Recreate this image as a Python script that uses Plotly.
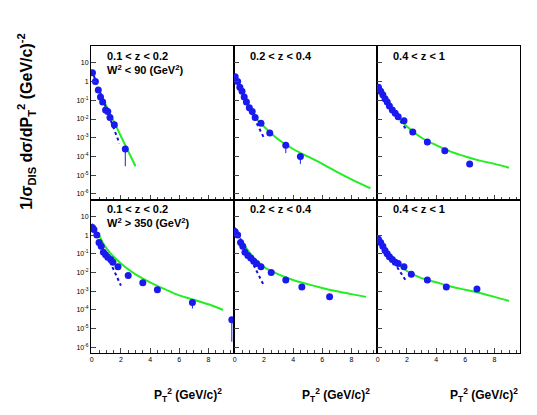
import plotly.graph_objects as go
from plotly.subplots import make_subplots

pts = {
 (1,1): ([0.05,0.25,0.45,0.6,0.75,0.95,1.1,1.25,1.55,2.3],
         [3,1,0.35,0.15,0.08,0.03,0.025,0.012,0.005,2.5e-4]),
 (1,2): ([0.03,0.2,0.35,0.5,0.65,0.8,1.0,1.2,1.4,1.8,2.4,3.5,4.5],
         [1.8,1.0,0.5,0.3,0.15,0.08,0.04,0.025,0.012,0.006,0.0018,4e-4,1e-4]),
 (1,3): ([0.05,0.2,0.35,0.5,0.65,0.8,1.0,1.2,1.4,1.8,2.4,3.4,4.6,6.3],
         [0.5,0.3,0.2,0.12,0.08,0.05,0.03,0.02,0.013,0.008,0.002,6e-4,2e-4,4e-5]),
 (2,1): ([0.05,0.15,0.35,0.5,0.65,0.8,0.95,1.1,1.3,1.45,1.8,2.5,3.5,4.5,6.9,9.6],
         [2.5,2,1,0.4,0.25,0.12,0.09,0.065,0.05,0.035,0.02,0.007,0.0028,0.0012,2.5e-4,3e-5]),
 (2,2): ([0.03,0.2,0.4,0.55,0.7,0.9,1.1,1.3,1.5,1.8,2.5,3.5,4.6,6.5],
         [1.5,1.0,0.4,0.25,0.12,0.08,0.06,0.04,0.03,0.02,0.01,0.004,0.0017,5e-4]),
 (2,3): ([0.05,0.2,0.35,0.5,0.65,0.8,1.0,1.2,1.4,1.8,2.3,3.4,4.7,6.8],
         [0.6,0.4,0.25,0.15,0.1,0.07,0.05,0.035,0.03,0.02,0.008,0.004,0.0017,0.0013]),
}
# lower error bar endpoints (absolute) for selected points
err_low_end = {(1,1): {9: 3e-5}, (1,2): {11: 1.5e-4, 12: 4e-5}, (2,1): {14: 1.2e-4, 15: 2e-6}}
green = {
 (1,1): ([0.4,1.0,2.0,3.0],[0.5,0.05,1.2e-3,3e-5]),
 (1,2): ([1.2,1.5,2,3,4,5,6,7,8,9.3],[0.02,0.01,0.004,8e-4,2.5e-4,1e-4,4e-5,1.5e-5,6e-6,2e-6]),
 (1,3): ([1.2,1.5,2,3,4,5,6,7,8,9],[0.02,0.01,0.004,1e-3,4e-4,1.8e-4,1e-4,6e-5,4e-5,2.5e-5]),
 (2,1): ([0.5,1,2,3,4,5,6,7,8,9],[1,0.2,0.03,0.008,0.003,1.3e-3,6e-4,3.5e-4,2e-4,1e-4]),
 (2,2): ([0.5,1,2,3,4,5,6,7,8,9],[0.5,0.12,0.02,0.008,0.004,0.0024,0.0015,1e-3,7e-4,5e-4]),
 (2,3): ([0.8,1,2,3,4,5,6,7,8,9],[0.08,0.05,0.012,0.005,0.003,0.0018,0.0012,8e-4,5e-4,3e-4]),
}
dotted = {
 (1,1): ([0,0.5,1,1.5,1.9],[4,0.4,0.04,0.004,5e-4]),
 (1,2): ([0,0.5,1,1.5,2],[2.5,0.3,0.04,0.006,0.001]),
 (1,3): ([0,0.5,1,1.5,2],[0.6,0.12,0.03,0.008,0.0025]),
 (2,1): ([0,0.5,1,1.5,2],[4,0.7,0.1,0.015,0.002]),
 (2,2): ([0,0.5,1,1.5,2],[2.5,0.45,0.08,0.012,0.002]),
 (2,3): ([0,0.5,1,1.5,2],[0.8,0.2,0.05,0.012,0.003]),
}
labels = {(1,1):"<b>0.1 < z < 0.2<br>W<sup>2</sup> < 90 (GeV<sup>2</sup>)</b>", (1,2):"<b>0.2 < z < 0.4</b>",
          (1,3):"<b>0.4 < z < 1</b>", (2,1):"<b>0.1 < z < 0.2<br>W<sup>2</sup> > 350 (GeV<sup>2</sup>)</b>",
          (2,2):"<b>0.2 < z < 0.4</b>", (2,3):"<b>0.4 < z < 1</b>"}
ytickvals = [1e-6,1e-5,1e-4,1e-3,1e-2,1e-1,1,10]
yticktext = ["10<sup>-6</sup>","10<sup>-5</sup>","10<sup>-4</sup>","10<sup>-3</sup>","10<sup>-2</sup>","10<sup>-1</sup>","1","10"]
xtickvals = [0,2,4,6,8]

fig = make_subplots(rows=2, cols=3, horizontal_spacing=0, vertical_spacing=0)
for (r,c),(x,y) in pts.items():
    gx, gy = green[(r,c)]
    fig.add_trace(go.Scatter(x=gx,y=gy,mode="lines",line=dict(color="#22ee22",width=2,shape="spline")),row=r,col=c)
    dx, dy = dotted[(r,c)]
    fig.add_trace(go.Scatter(x=dx,y=dy,mode="lines",line=dict(color="#1111dd",width=2,dash="dot")),row=r,col=c)
    ends = err_low_end.get((r,c),{})
    aminus = [y[i]-ends[i] if i in ends else 0 for i in range(len(y))]
    fig.add_trace(go.Scatter(x=x,y=y,mode="markers",marker=dict(color="#1a1aee",size=7),
        error_y=dict(type="data",symmetric=False,array=[0]*len(y),arrayminus=aminus,
                     color="#1a1aee",width=0,thickness=1)),row=r,col=c)
    xd = "x" if (r,c)==(1,1) else f"x{(r-1)*3+c}"
    yd = "y" if (r,c)==(1,1) else f"y{(r-1)*3+c}"
    fig.add_annotation(text=labels[(r,c)],xref=f"{xd} domain",yref=f"{yd} domain",x=0.1,y=0.99,
        xanchor="left",yanchor="top",showarrow=False,align="left",font=dict(size=11,color="black",family="Liberation Sans"))
    fig.update_xaxes(range=[-0.05,9.75],tickvals=xtickvals,showticklabels=(r==2),ticks="inside",ticklen=5,
        showgrid=False,zeroline=False,showline=True,linecolor="black",mirror=True,row=r,col=c,automargin=False,
        tickfont=dict(size=7),minor=dict(ticks="inside",ticklen=3,dtick=0.5))
    fig.update_yaxes(type="log",range=[-6.3,1.9],tickvals=ytickvals,ticktext=yticktext,showticklabels=(c==1),
        ticks="inside",ticklen=5,showgrid=False,zeroline=False,showline=True,linecolor="black",mirror=True,
        row=r,col=c,tickfont=dict(size=7),automargin=False)
for i,xp in enumerate([0.31,0.655,1.0]):
    fig.add_annotation(text="<b>P<sub>T</sub><sup>2</sup> (GeV/c)<sup>2</sup></b>",xref="paper",yref="paper",x=xp,y=-0.1,
        xanchor="right",yanchor="top",showarrow=False,font=dict(size=12,family="Liberation Sans",color="black"))
fig.add_annotation(text="<b>1/σ<sub>DIS</sub> dσ/dP<sub>T</sub><sup>2</sup> (GeV/c)<sup>-2</sup></b>",xref="paper",yref="paper",
    x=-0.15,y=1.05,textangle=-90,xanchor="center",yanchor="top",showarrow=False,
    font=dict(size=16,family="Liberation Sans",color="black"))
fig.update_layout(width=537,height=415,margin=dict(l=83,r=25,t=38,b=70,autoexpand=False),showlegend=False,
    plot_bgcolor="white",paper_bgcolor="white",font=dict(family="Liberation Sans",color="black"))
fig.write_html("out.html")
